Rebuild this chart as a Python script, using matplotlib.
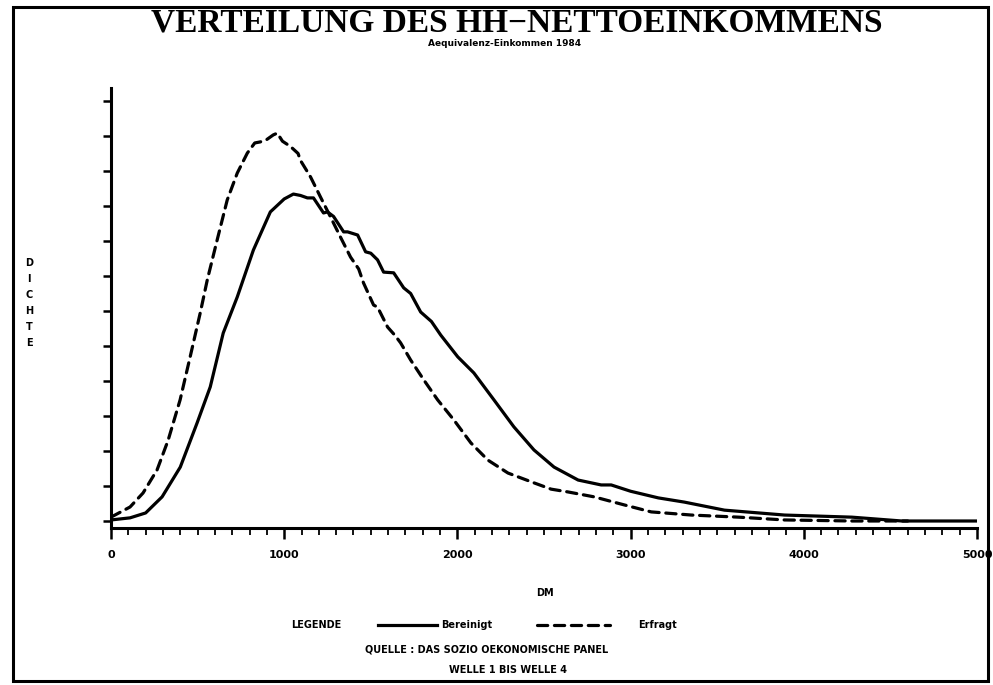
import matplotlib
matplotlib.use("Agg")
import matplotlib.pyplot as plt
from matplotlib.lines import Line2D
from matplotlib.patches import Rectangle

# ---- data (y in axis-tick units) ----
bereinigt_x = [0, 110, 200, 295, 400, 497, 573, 648, 729, 822, 920, 1000, 1053, 1094,
               1134, 1169, 1227, 1250, 1285, 1343, 1366, 1424, 1470, 1500, 1539, 1574,
               1632, 1690, 1730, 1788, 1850, 1904, 2002, 2095, 2211, 2326, 2442, 2558,
               2697, 2830, 2888, 3000, 3160, 3310, 3542, 3889, 4277, 4566, 5000]
bereinigt_y = [0.03, 0.09, 0.23, 0.69, 1.54, 2.80, 3.83, 5.37, 6.40, 7.74, 8.83, 9.20,
               9.34, 9.30, 9.23, 9.23, 8.80, 8.83, 8.70, 8.26, 8.26, 8.17, 7.69, 7.65,
               7.46, 7.11, 7.09, 6.66, 6.50, 5.97, 5.70, 5.31, 4.69, 4.23, 3.46, 2.69,
               2.03, 1.54, 1.17, 1.03, 1.03, 0.85, 0.66, 0.54, 0.31, 0.17, 0.11, 0.00, 0.00]

erfragt_x = [0, 110, 185, 266, 330, 399, 457, 515, 556, 613, 671, 729, 787, 830, 862,
             900, 937, 960, 990, 1036, 1080, 1094, 1152, 1209, 1267, 1325, 1383, 1430,
             1458, 1516, 1539, 1597, 1640, 1672, 1730, 1806, 1886, 1979, 2078, 2176,
             2292, 2442, 2541, 2639, 2789, 2963, 3119, 3351, 3623, 3889, 4277, 4600]
erfragt_y = [0.11, 0.40, 0.80, 1.46, 2.31, 3.46, 4.69, 5.94, 6.89, 8.03, 9.17, 9.94,
             10.51, 10.80, 10.83, 10.90, 11.03, 11.08, 10.85, 10.70, 10.50, 10.30, 9.83,
             9.26, 8.69, 8.11, 7.54, 7.20, 6.80, 6.17, 6.11, 5.54, 5.30, 5.09, 4.60, 4.03,
             3.46, 2.89, 2.23, 1.74, 1.37, 1.09, 0.91, 0.83, 0.69, 0.46, 0.26, 0.17, 0.11,
             0.03, 0.00, 0.00]

xticks = [0, 1000, 2000, 3000, 4000, 5000]
xtick_labels = ["0", "1000", "2000", "3000", "4000", "5000"]
yticks = list(range(0, 13))

title = "VERTEILUNG DES HH\u2212NETTOEINKOMMENS"
subtitle = "Aequivalenz-Einkommen 1984"
ylabel = "DICHTE"
xlabel = "DM"
legend_title = "LEGENDE"
series_names = ["Bereinigt", "Erfragt"]
source1 = "QUELLE : DAS SOZIO OEKONOMISCHE PANEL"
source2 = "WELLE 1 BIS WELLE 4"

# ---- figure ----
W, H = 993, 685
fig = plt.figure(figsize=(W / 100, H / 100), dpi=100)
fig.patch.set_facecolor("white")

def fx(px):
    return px / W

def fy(py):
    return 1 - py / H

ax = fig.add_axes([fx(111), fy(528), fx(977) - fx(111), fy(88) - fy(528)])
ax.set_facecolor("white")

lw = 2.3
ax.plot(bereinigt_x, bereinigt_y, color="black", lw=lw, solid_joinstyle="round")
ax.plot(erfragt_x, erfragt_y, color="black", lw=lw, dashes=(3.2, 2.1),
        dash_capstyle="round")

ax.set_xlim(0, 5000)
ax.set_ylim(-0.2, 12.37)
for s in ["top", "right"]:
    ax.spines[s].set_visible(False)
for s in ["left", "bottom"]:
    ax.spines[s].set_linewidth(2.2)

ax.set_xticks(xticks)
ax.set_xticklabels(xtick_labels, fontsize=8, fontweight="heavy", family="DejaVu Sans")
ax.set_xticks(range(0, 5001, 100), minor=True)
ax.set_yticks(yticks)
ax.set_yticklabels([])
ax.tick_params(axis="x", which="major", direction="out", length=8, width=1.8, pad=8)
ax.tick_params(axis="x", which="minor", direction="out", length=5, width=1.3)
ax.tick_params(axis="y", which="major", direction="out", length=6, width=1.8)

# ---- texts ----
fig.text(fx(517), fy(23), title, ha="center", va="center", fontsize=24,
         family="Liberation Serif", fontweight="bold")
fig.text(fx(505), fy(44), subtitle, ha="center", va="center", fontsize=6.5,
         family="DejaVu Sans", fontweight="heavy")
fig.text(fx(29), fy(303), "\n".join(ylabel), ha="center", va="center", fontsize=7,
         family="DejaVu Sans", fontweight="heavy", linespacing=1.75)
fig.text(fx(545), fy(593), xlabel, ha="center", va="center", fontsize=7,
         family="DejaVu Sans", fontweight="heavy")

ly = fy(625)
fig.text(fx(316), ly, legend_title, ha="center", va="center", fontsize=7,
         family="DejaVu Sans", fontweight="heavy")
fig.add_artist(Line2D([fx(378), fx(437)], [ly, ly], color="black", lw=lw,
                      transform=fig.transFigure))
fig.text(fx(441), ly, series_names[0], ha="left", va="center", fontsize=7,
         family="DejaVu Sans", fontweight="heavy")
fig.add_artist(Line2D([fx(537), fx(610)], [ly, ly], color="black", lw=lw,
                      dashes=(3.2, 2.1), dash_capstyle="round",
                      transform=fig.transFigure))
fig.text(fx(638), ly, series_names[1], ha="left", va="center", fontsize=7,
         family="DejaVu Sans", fontweight="heavy")

fig.text(fx(487), fy(650), source1, ha="center", va="center", fontsize=7,
         family="DejaVu Sans", fontweight="heavy")
fig.text(fx(508), fy(670), source2, ha="center", va="center", fontsize=7,
         family="DejaVu Sans", fontweight="heavy")

# frame round the figure
fig.add_artist(Rectangle((fx(13), fy(681)), fx(988) - fx(13), fy(7) - fy(681),
                         fill=False, lw=2.2, edgecolor="black",
                         transform=fig.transFigure))

fig.savefig("out.png", dpi=100)
